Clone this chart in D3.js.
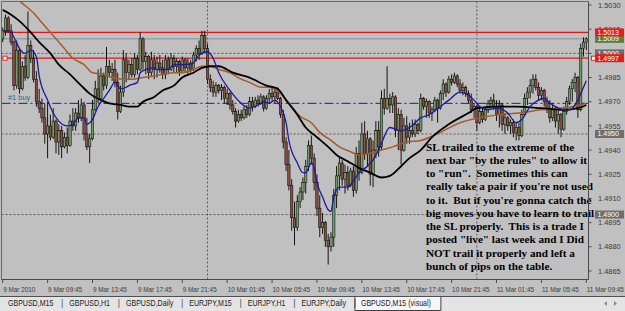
<!DOCTYPE html>
<html lang="en">
<head>
<meta charset="UTF-8">
<title>GBPUSD,M15 (visual)</title>
<style>
  body { margin: 0; background: #c0c0c0; }
  svg { display: block; }
  .axis-text { font-family: "Liberation Sans", Arial, sans-serif; font-size: 7.4px; fill: #3a3a3a; }
  .box-text { font-family: "Liberation Sans", Arial, sans-serif; font-size: 7px; fill: #fff; }
  .tab { font-family: "Liberation Sans", Arial, sans-serif; font-size: 8.2px; fill: #222; }
  .note { font-family: "Liberation Serif", "Times New Roman", serif; font-size: 11.2px; font-weight: bold; fill: #000; white-space: pre; }
</style>
</head>
<body>
<svg id="chart" width="625" height="311"></svg>
<script src="https://cdn.jsdelivr.net/npm/d3@7/dist/d3.min.js"></script>
<script>
// GBPUSD M15 from 9 Mar 2010 05:45, one bar per 15 minutes.
// Prices are pips above 1.4800.
const firstBar = new Date(2010, 2, 9, 5, 45)

const opens = [
  209,214,222,214,207,180,202,178,192,185, 205,197,184,170,166,160,150,155,148,158,
  145,152,142,148,143,158,155,163,160,168, 150,142,147,165,178,172,186,180,192,188,
  190,182,164,176,196,188,193,187,197,190, 209,195,198,188,196,190,194,191,187,196,
  190,197,192,195,189,196,191,194,190,199, 203,200,211,203,184,179,176,180,177,179,
  172,175,168,164,158,162,160,165,162,170, 167,171,169,173,166,172,175,173,176,172,
  162,145,131,118,98,92,108,114,120,130, 143,135,120,104,92,95,84,80,86,112,
  124,132,122,126,118,127,115,138,126,150, 138,147,125,140,152,142,172,166,172,168,
  173,152,162,140,155,148,152,150,156,152, 172,167,170,163,165,171,166,175,181,176,
  184,182,186,181,177,179,175,171,165,167, 157,164,159,165,169,171,167,162,168,156,
  160,155,157,151,154,149,162,172,176,180, 184,179,174,177,170,166,160,166,158,162,
  153,164,170,178,182,185,165,203,207
]
const highs = [
  216,224,223,218,208,208,203,195,199,226, 208,202,189,178,172,169,170,162,166,159,
  156,155,151,154,162,166,166,171,172,170, 160,150,171,183,190,191,188,204,196,194,
  196,188,180,202,200,196,197,200,199,213, 210,201,199,201,199,198,199,196,199,198,
  200,199,197,196,198,197,197,196,201,205, 208,214,214,206,187,183,182,181,181,180,
  178,176,171,166,165,165,167,168,173,173, 173,174,175,174,174,178,179,178,179,173,
  165,148,140,122,108,112,117,123,134,146, 149,138,125,112,101,96,88,89,116,130,
  136,134,131,130,129,130,142,146,157,158, 152,148,146,158,158,177,178,192,175,176,
  174,166,165,160,161,157,159,159,157,175, 173,172,171,167,173,172,177,184,182,186,
  187,188,187,184,182,180,177,175,169,168, 167,166,167,171,173,175,171,171,169,163,
  161,159,159,157,157,165,175,179,184,187, 187,182,179,178,173,171,169,167,165,163,
  167,173,180,184,188,186,206,210,210
]
const lows = [
  207,211,213,205,177,178,175,177,183,184, 194,182,167,163,157,144,135,146,147,138,
  137,135,141,138,142,152,152,157,158,146, 140,132,146,164,169,171,177,178,185,183,
  179,159,163,173,182,184,185,185,187,189, 190,187,184,186,184,185,188,184,184,187,
  189,188,188,186,189,188,186,188,189,195, 196,199,200,181,176,173,173,175,171,169,
  168,165,162,154,157,158,159,160,161,164, 166,167,168,164,165,169,170,169,171,160,
  141,127,115,90,81,90,104,109,113,127, 131,115,99,86,88,80,69,77,80,104,
  115,118,113,115,117,111,113,121,125,134, 130,118,117,135,136,140,162,165,163,163,
  148,140,131,139,144,144,148,148,150,151, 165,160,160,158,164,157,165,171,173,175,
  180,181,179,175,174,173,169,163,160,152, 156,157,158,163,166,165,158,154,152,150,
  152,150,148,146,146,148,161,168,172,175, 177,171,171,167,163,157,158,154,150,148,
  152,162,168,170,176,160,164,198,202
]
const closes = [
  214,222,214,207,180,202,178,192,185,205, 197,184,170,166,160,150,155,148,158,145,
  152,142,148,143,158,155,163,160,168,150, 142,147,165,178,172,186,180,192,188,190,
  182,164,176,196,188,193,187,197,190,209, 195,198,188,196,190,194,191,187,196,190,
  197,192,195,189,196,191,194,190,199,203, 200,211,203,184,179,176,180,177,179,172,
  175,168,164,158,162,160,165,162,170,167, 171,169,173,166,172,175,173,176,172,162,
  145,131,118,98,92,108,114,120,130,143, 135,120,104,92,95,84,80,86,112,124,
  132,122,126,118,127,115,138,126,150,138, 147,125,140,152,142,172,166,172,168,173,
  152,162,140,155,148,152,150,156,152,172, 167,170,163,165,171,166,175,181,176,184,
  182,186,181,177,179,175,171,165,167,157, 164,159,165,169,171,167,162,168,156,160,
  155,157,151,154,149,162,172,176,180,184, 179,174,177,170,166,160,166,158,162,153,
  164,170,178,182,185,165,203,207,209
]

// moving averages: [bar, pips]
const maFast = [
  [0,214],[3,213],[4,210],[6,203],[8,200],[10,202],[12,198],[13,186],[16,171],[18,163],
  [20,158],[23,155],[25,156],[27,160],[29,160],[30,156],[32,159],[34,167],[36,172],[38,177],
  [40,182],[42,178],[44,179],[45,180],[48,182],[49,188],[51,190],[54,191],[55,190],[59,190],
  [61,193],[63,193],[66,193],[68,194],[70,199],[73,201],[75,197],[77,188],[81,177],[85,169],
  [88,166],[91,168],[93,170],[95,169],[97,171],[99,167],[101,157],[102,146],[105,132],[107,126],
  [108,126],[110,132],[111,129],[112,120],[114,111],[116,103],[117,102],[118,111],[120,117],[123,117],
  [125,121],[127,126],[130,130],[132,134],[134,140],[138,154],[142,152],[145,154],[149,160],[152,162],
  [156,167],[159,171],[163,176],[165,175],[168,171],[170,167],[173,165],[176,166],[180,163],[183,157],
  [185,159],[188,167],[190,170],[193,172],[195,169],[197,167],[200,165],[202,165],[205,171],[207,179],
  [208,183]
]
const maSlow = [
  [0,227],[3,224],[6,220],[10,213],[13,207],[17,200],[20,193],[24,187],[28,180],[31,175],
  [35,171],[38,169],[42,168],[45,167],[48,167],[50,170],[54,173],[57,177],[61,180],[64,185],
  [68,188],[71,191],[74,192],[77,192],[82,188],[88,185],[94,180],[98,178],[101,171],[105,162],
  [108,154],[112,148],[116,142],[119,137],[123,133],[127,129],[131,126],[135,123],[138,124],[142,130],
  [145,135],[149,140],[153,148],[159,156],[166,163],[169,166],[176,167],[183,167],[192,166],[200,165],
  [205,166],[208,168]
]
const maMid = [
  [0,240],[7,231],[11,225],[14,219],[18,211],[22,203],[25,197],[29,193],[32,188],[36,187],
  [39,185],[43,184],[46,184],[50,185],[54,186],[57,187],[61,188],[64,188],[68,190],[71,192],
  [74,192],[77,190],[81,188],[85,184],[88,182],[92,179],[95,179],[99,175],[102,169],[106,161],
  [110,157],[113,151],[117,146],[120,142],[124,139],[127,137],[131,138],[135,140],[139,142],[144,145],
  [149,146],[156,151],[163,157],[170,160],[177,162],[184,163],[192,165],[199,166],[206,168],[208,169]
]

// 1.5000 is not in the list: its grey level box covers that tick
const priceTicks = [1.5030, 1.5015, 1.4985, 1.4970, 1.4955, 1.4940, 1.4925, 1.4910, 1.4895, 1.4880, 1.4865]
const stopLevels = [1.5013, 1.4997]
const bidPrice = 1.5009
const markLevels = [1.5000, 1.4950, 1.4900]
const buyPrice = 1.4969
const buyLabel = '#1 buy'

const tabs = ['GBPUSD,M15', 'GBPUSD,H1', 'GBPUSD,Daily', 'EURJPY,M15', 'EURJPY,H1', 'EURJPY,Daily']
const activeTab = 'GBPUSD,M15 (visual)'

const noteLines = [
  'SL trailed to the extreme of the',
  'next bar "by the rules" to allow it',
  'to "run".  Sometimes this can',
  'really take a pair if you\'re not used',
  'to it.  But if you\'re gonna catch the',
  'big moves you have to learn to trail',
  'the SL properly.  This is a trade I',
  'posted "live" last week and I Did',
  'NOT trail it properly and left a',
  'bunch of pips on the table.'
]

const price = v => 1.48 + v / 10000
const barTime = i => new Date(firstBar.getTime() + i * 15 * 60 * 1000)

const frame = { left: 1.5, top: 1.5, right: 588.5, bottom: 279.5 }
const narrow = 0.86   // the screenshot's UI font is narrower than Liberation Sans

const x = d3.scaleLinear().domain([0, closes.length - 1]).range([2.7, 586.3])
const y = d3.scaleLinear().domain([1.4865, 1.5030]).range([271, 5])

const svg = d3.select('#chart')

svg.append('rect').attr('width', 625).attr('height', 311).attr('fill', '#c0c0c0')

svg.append('clipPath').attr('id', 'plot-clip').append('rect')
    .attr('x', frame.left).attr('y', frame.top)
    .attr('width', frame.right - frame.left).attr('height', frame.bottom - frame.top)

const plot = svg.append('g').attr('clip-path', 'url(#plot-clip)')

// day separators
const dayStarts = d3.range(closes.length).filter(i => {
  const t = barTime(i)
  return t.getHours() === 0 && t.getMinutes() === 0
})
plot.selectAll('.day').data(dayStarts).join('line')
    .attr('class', 'day')
    .attr('x1', d => x(d)).attr('x2', d => x(d))
    .attr('y1', frame.top).attr('y2', frame.bottom)
    .attr('stroke', '#5a5a5a').attr('stroke-dasharray', '2,2')

// horizontal marker lines
plot.selectAll('.mark').data(markLevels).join('line')
    .attr('class', 'mark')
    .attr('x1', frame.left).attr('x2', frame.right)
    .attr('y1', d => y(d)).attr('y2', d => y(d))
    .attr('stroke', '#5a5a5a').attr('stroke-dasharray', '2,2')

plot.append('line')
    .attr('x1', frame.left).attr('x2', frame.right)
    .attr('y1', y(bidPrice)).attr('y2', y(bidPrice))
    .attr('stroke', '#8a9098')

plot.selectAll('.stop').data(stopLevels).join('line')
    .attr('class', 'stop')
    .attr('x1', frame.left).attr('x2', frame.right)
    .attr('y1', d => y(d)).attr('y2', d => y(d))
    .attr('stroke', '#e01818').attr('stroke-width', 1.2)

plot.append('line')
    .attr('x1', frame.left).attr('x2', frame.right)
    .attr('y1', y(buyPrice)).attr('y2', y(buyPrice))
    .attr('stroke', '#1818a8').attr('stroke-dasharray', '9,3,2,3')

plot.append('text')
    .attr('class', 'axis-text')
    .attr('x', 8).attr('y', y(buyPrice) - 3)
    .style('fill', '#35608a')
    .text(buyLabel)

// candles
const bars = closes.map((c, i) => ({ i, o: price(opens[i]), h: price(highs[i]), l: price(lows[i]), c: price(c) }))
const bodyW = 2.4

const candle = plot.selectAll('.bar').data(bars).join('g').attr('class', 'bar')
candle.append('line')
    .attr('x1', d => x(d.i)).attr('x2', d => x(d.i))
    .attr('y1', d => y(d.h)).attr('y2', d => y(d.l))
    .attr('stroke', '#000').attr('stroke-width', 0.9)
candle.append('rect')
    .attr('x', d => x(d.i) - bodyW / 2)
    .attr('width', bodyW)
    .attr('y', d => y(Math.max(d.o, d.c)))
    .attr('height', d => Math.max(0.6, Math.abs(y(d.o) - y(d.c))))
    .attr('fill', d => d.c >= d.o ? '#6f9a6a' : '#8a4c42')
    .attr('stroke', '#000').attr('stroke-width', 0.5)

// moving averages
const maLine = d3.line()
    .x(d => x(d[0]))
    .y(d => y(price(d[1])))
    .curve(d3.curveMonotoneX)

plot.append('path').datum(maMid).attr('d', maLine)
    .attr('fill', 'none').attr('stroke', '#a8582a').attr('stroke-width', 1.5)
plot.append('path').datum(maSlow).attr('d', maLine)
    .attr('fill', 'none').attr('stroke', '#000').attr('stroke-width', 1.8)
plot.append('path').datum(maFast).attr('d', maLine)
    .attr('fill', 'none').attr('stroke', '#1a1a9a').attr('stroke-width', 1.3)

// note
const note = svg.append('text').attr('class', 'note')
note.selectAll('tspan').data(noteLines).join('tspan')
    .attr('x', 426)
    .attr('y', (d, i) => 150.5 + i * 13.26)
    .text(d => d)

// frame + axes lines
svg.append('path')
    .attr('d', `M${frame.left},${frame.bottom}V${frame.top}H${frame.right}`)
    .attr('fill', 'none').attr('stroke', '#6a6a6a')
svg.append('line')
    .attr('x1', frame.right).attr('x2', frame.right)
    .attr('y1', frame.top).attr('y2', frame.bottom)
    .attr('stroke', '#4a4a4a')
svg.append('line')
    .attr('x1', frame.left).attr('x2', frame.right)
    .attr('y1', frame.bottom).attr('y2', frame.bottom)
    .attr('stroke', '#4a4a4a')

const yAxis = svg.append('g')
yAxis.selectAll('line').data(priceTicks.concat(markLevels.slice(0, 1))).join('line')
    .attr('x1', frame.right).attr('x2', frame.right + 3)
    .attr('y1', d => y(d)).attr('y2', d => y(d))
    .attr('stroke', '#4a4a4a')
yAxis.selectAll('text').data(priceTicks).join('text')
    .attr('class', 'axis-text')
    .attr('x', 598).attr('y', d => y(d) + 2.6)
    .text(d => d.toFixed(4))

// price boxes on the axis
const boxes = [
  ...markLevels.map(p => ({ p, fill: '#6e6e6e' })),
  { p: bidPrice, fill: '#5e7e3e' },
  ...stopLevels.map(p => ({ p, fill: '#e41c1c' }))
]
const box = svg.selectAll('.pbox').data(boxes).join('g').attr('class', 'pbox')
box.append('rect')
    .attr('x', 595).attr('width', 29)
    .attr('y', d => y(d.p) - 4).attr('height', 8)
    .attr('fill', d => d.fill)
box.append('text')
    .attr('class', 'box-text')
    .attr('x', 597.5).attr('y', d => y(d.p) + 2.5)
    .text(d => d.p.toFixed(4))

// stop-loss handles
svg.selectAll('.handle').data([frame.left + 1.5, 591.5]).join('rect')
    .attr('class', 'handle')
    .attr('x', d => d).attr('y', y(stopLevels[1]) - 2)
    .attr('width', 4).attr('height', 4)
    .attr('fill', '#fff').attr('stroke', '#e01818').attr('stroke-width', 0.9)

// time axis
const timeTicks = d3.range(0, closes.length, 16)
const fmt = d3.timeFormat('%-d %b %H:%M')
const xAxis = svg.append('g')
xAxis.selectAll('line').data(timeTicks).join('line')
    .attr('x1', d => x(d)).attr('x2', d => x(d))
    .attr('y1', frame.bottom).attr('y2', frame.bottom + 3.5)
    .attr('stroke', '#4a4a4a')
xAxis.selectAll('text').data(timeTicks).join('text')
    .attr('class', 'axis-text')
    .attr('transform', d => `translate(${x(d) + 0.5},292) scale(${narrow},1)`)
    .text(d => d === 0 ? d3.timeFormat('%-d %b %Y')(barTime(d)) : fmt(barTime(d)))

// tab strip
const strip = svg.append('g')
strip.append('rect').attr('y', 296).attr('width', 625).attr('height', 15).attr('fill', '#e4e4e4')
strip.append('line').attr('x1', 0).attr('x2', 625).attr('y1', 296.5).attr('y2', 296.5).attr('stroke', '#505050')

const tabText = (label, tx) => strip.append('text').attr('class', 'tab')
    .attr('transform', `translate(${tx},306) scale(${narrow},1)`).text(label)

const activeBox = strip.append('path').attr('fill', '#f6f6f6').attr('stroke', '#404040')

let tx = 8
tabs.forEach((name, i) => {
  const w = tabText(name, tx).node().getComputedTextLength() * narrow
  tabText('|', tx + w + 8)
  tx = tx + w + (i < tabs.length - 1 ? 16 : 9)
})
const aw = tabText(activeTab, tx + 6).node().getComputedTextLength() * narrow
activeBox.attr('d', `M${tx},297V310.5H${tx + aw + 16}V297`)

strip.selectAll('.arrow').data(['M607,301L604,303.5L607,306Z', 'M614,301L617,303.5L614,306Z']).join('path')
    .attr('class', 'arrow')
    .attr('d', d => d).attr('fill', '#8a8a8a')
</script>
</body>
</html>
